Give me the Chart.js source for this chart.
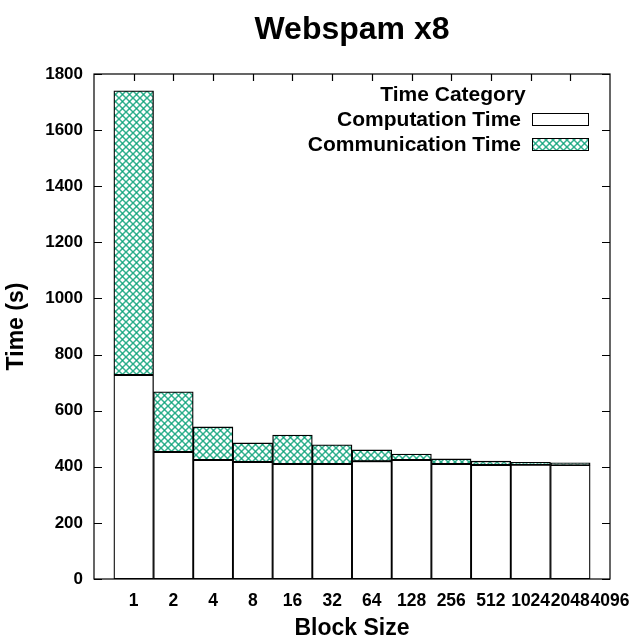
<!DOCTYPE html>
<html lang="en">
<head>
    <meta charset="UTF-8">
    <title>Webspam x8</title>
    <style>
        html, body {
            margin: 0;
            padding: 0;
            background: #fff;
        }
        #wrap {
            width: 640px;
            height: 640px;
        }
    </style>
</head>
<body>
    <div id="wrap">
        <canvas id="timeChart" width="640" height="640"></canvas>
    </div>

    <script src="https://cdn.jsdelivr.net/npm/chart.js"></script>

    <script>
        // data
        const blockSizes = ['1', '2', '4', '8', '16', '32', '64', '128', '256', '512', '1024', '2048', '4096'];
        const computationTime = [727, 453, 424, 417, 410, 410, 420, 424, 410, 406, 407, 406, null];
        const communicationTime = [1013, 214, 118, 68, 103, 68, 40, 21, 18, 14, 9, 8, null];
        const yTicks = [0, 200, 400, 600, 800, 1000, 1200, 1400, 1600, 1800];

        const FONT = "'Liberation Sans', Arial, sans-serif";
        const GREEN = '#009e73';

        // crosshatch pattern like gnuplot's fill pattern
        function makeHatch() {
            const size = 7;
            const c = document.createElement('canvas');
            c.width = size;
            c.height = size;
            const g = c.getContext('2d');
            g.fillStyle = '#fff';
            g.fillRect(0, 0, size, size);
            g.strokeStyle = GREEN;
            g.globalAlpha = 0.8;
            g.lineWidth = 1.5;
            for (let k = -1; k <= 1; k++) {
                g.beginPath();
                g.moveTo(k * size, 0);
                g.lineTo(k * size + size, size);
                g.stroke();
                g.beginPath();
                g.moveTo(k * size + size, 0);
                g.lineTo(k * size, size);
                g.stroke();
            }
            return g.createPattern(c, 'repeat');
        }

        const ctx = document.getElementById('timeChart').getContext('2d');
        const hatch = makeHatch();

        // frame, inward tick marks and the gnuplot-style key
        const framePlugin = {
            id: 'frame',
            afterDraw(chart) {
                const c = chart.ctx;
                const a = chart.chartArea;
                const x = chart.scales.x;
                const y = chart.scales.y;
                c.save();
                c.strokeStyle = '#000';
                c.lineWidth = 1.2;
                c.strokeRect(a.left, a.top, a.right - a.left, a.bottom - a.top);

                c.beginPath();
                yTicks.forEach(v => {
                    const py = Math.round(y.getPixelForValue(v)) + 0.5;
                    c.moveTo(a.left, py);
                    c.lineTo(a.left + 8, py);
                    c.moveTo(a.right, py);
                    c.lineTo(a.right - 8, py);
                });
                for (let i = 1; i < blockSizes.length; i++) {
                    const px = Math.round(x.getPixelForValue(i)) + 0.5;
                    c.moveTo(px, a.top);
                    c.lineTo(px, a.top + 7);
                }
                c.stroke();

                // key
                c.fillStyle = '#000';
                c.font = 'bold 21px ' + FONT;
                c.textBaseline = 'middle';
                c.textAlign = 'center';
                c.fillText('Time Category', 453, 95);
                c.textAlign = 'right';
                c.fillText('Computation Time', 521, 120);
                c.fillText('Communication Time', 521, 145);

                c.lineWidth = 1;
                c.fillStyle = '#fff';
                c.fillRect(532.5, 113.5, 56, 12);
                c.strokeRect(532.5, 113.5, 56, 12);
                c.fillStyle = hatch;
                c.fillRect(532.5, 138.5, 56, 12);
                c.strokeRect(532.5, 138.5, 56, 12);
                c.restore();
            }
        };

        new Chart(ctx, {
            type: 'bar',
            data: {
                labels: [''].concat(blockSizes),
                datasets: [{
                    label: 'Computation Time',
                    data: [null].concat(computationTime),
                    backgroundColor: '#fff',
                    borderColor: '#000',
                    borderWidth: 1.3,
                    borderSkipped: false,
                    barPercentage: 1,
                    categoryPercentage: 1
                }, {
                    label: 'Communication Time',
                    data: [null].concat(communicationTime),
                    backgroundColor: hatch,
                    borderColor: '#000',
                    borderWidth: 1.3,
                    borderSkipped: false,
                    barPercentage: 1,
                    categoryPercentage: 1
                }]
            },
            options: {
                responsive: false,
                animation: false,
                layout: {
                    padding: { left: 0, right: 30, top: 0, bottom: 0 }
                },
                plugins: {
                    legend: { display: false },
                    tooltip: { enabled: false },
                    title: {
                        display: true,
                        fullSize: false,
                        text: 'Webspam x8',
                        color: '#000',
                        font: { family: FONT, size: 32, weight: 'bold' },
                        padding: { top: 11, bottom: 24.6 }
                    }
                },
                scales: {
                    x: {
                        stacked: true,
                        offset: false,
                        grid: { display: false, drawTicks: false },
                        border: { display: false },
                        ticks: {
                            autoSkip: false,
                            maxRotation: 0,
                            padding: 12,
                            color: '#000',
                            font: { family: FONT, size: 17.5, weight: 'bold' }
                        },
                        title: {
                            display: true,
                            text: 'Block Size',
                            color: '#000',
                            font: { family: FONT, size: 23, weight: 'bold' },
                            padding: { top: 0, bottom: -2 }
                        },
                        afterFit(scale) {
                            scale.height = 61;
                            scale.paddingLeft = 0;
                            scale.paddingRight = 0;
                        }
                    },
                    y: {
                        stacked: true,
                        min: 0,
                        max: 1800,
                        grid: { display: false, drawTicks: false },
                        border: { display: false },
                        ticks: {
                            stepSize: 200,
                            padding: 11,
                            color: '#000',
                            font: { family: FONT, size: 17, weight: 'bold' },
                            callback: v => String(v)
                        },
                        title: {
                            display: true,
                            text: 'Time (s)',
                            color: '#000',
                            font: { family: FONT, size: 23, weight: 'bold' },
                            padding: { top: 3, bottom: 0 }
                        },
                        afterFit(scale) { scale.width = 94; }
                    }
                }
            },
            plugins: [framePlugin]
        });
    </script>
</body>
</html>
